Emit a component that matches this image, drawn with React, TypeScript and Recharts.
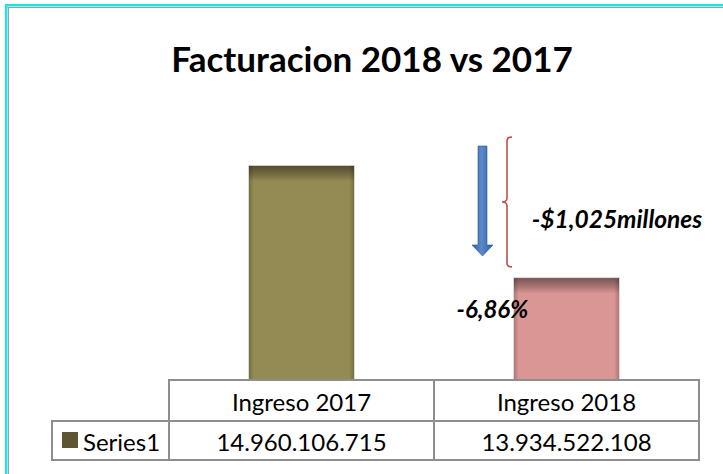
import React from 'react';
import { BarChart, Bar, XAxis, YAxis, Customized } from 'recharts';

const categories = ['Ingreso 2017', 'Ingreso 2018'];
const values = [14960106715, 13934522108];
const seriesName = 'Series1';
const title = 'Facturacion 2018 vs 2017';
const deltaLabel = '-$1,025millones';
const pctLabel = '-6,86%';
const barColors = ['#948A54', '#D99694'];
const yDomain = [13000000000, 15000000000];

const data = categories.map((c, i) => ({ name: c, value: values[i] }));

const FONT = 'Lato, "Open Sans", sans-serif';
const GRID = '#8E8E8E';

const fmt = (v: number) => String(v).replace(/\B(?=(\d{3})+(?!\d))/g, '.');

const BarShape = (props: any) => {
  const { x, y, width, height, index } = props;
  const base = barColors[index % barColors.length];
  const topH = Math.min(16, height);
  return (
    <g>
      <defs>
        <linearGradient id={`side${index}`} x1="0" y1="0" x2="1" y2="0">
          <stop offset="0" stopColor="#000" stopOpacity={0.22} />
          <stop offset="0.05" stopColor="#000" stopOpacity={0} />
          <stop offset="0.95" stopColor="#000" stopOpacity={0} />
          <stop offset="1" stopColor="#000" stopOpacity={0.22} />
        </linearGradient>
        <linearGradient id={`top${index}`} x1="0" y1="0" x2="0" y2="1">
          <stop offset="0" stopColor="#000" stopOpacity={0.45} />
          <stop offset="0.5" stopColor="#000" stopOpacity={0.25} />
          <stop offset="1" stopColor="#000" stopOpacity={0} />
        </linearGradient>
      </defs>
      <rect x={x} y={y} width={width} height={height} fill={base} />
      <rect x={x} y={y} width={width} height={height} fill={`url(#side${index})`} />
      <rect x={x} y={y} width={width} height={topH} fill={`url(#top${index})`} />
      <rect x={x} y={y} width={width} height={height} fill="none" stroke="#E4E4E4" strokeWidth={0.8} />
    </g>
  );
};

const PctLabel = (props: any) => {
  const { x, y, index } = props;
  if (index !== 1) return null;
  return (
    <text x={x - 21} y={y + 31} textAnchor="middle" dominantBaseline="central" fontSize={24} fontWeight={700} fontStyle="italic" fontFamily={FONT} fill="#000">
      {pctLabel}
    </text>
  );
};

const TableTick = (props: any) => {
  const { x, y, payload, index } = props;
  const half = payload && payload.offset ? payload.offset : 132.5;
  const left = x - half;
  const right = x + half;
  const r1 = 41;
  const r2 = 39;
  return (
    <g>
      <rect x={left} y={y} width={right - left} height={r1 + r2} fill="#fff" stroke={GRID} strokeWidth={2} />
      <line x1={left} x2={right} y1={y + r1} y2={y + r1} stroke={GRID} strokeWidth={2} />
      <text x={x} y={y + r1 / 2 + 1} textAnchor="middle" dominantBaseline="central" fontSize={24} fontFamily={FONT} fill="#000">
        {payload.value}
      </text>
      <text x={x} y={y + r1 + r2 / 2 + 1} textAnchor="middle" dominantBaseline="central" fontSize={24} fontFamily={FONT} fill="#000">
        {fmt(values[index])}
      </text>
      {index === 0 && (
        <g>
          <rect x={left - 117} y={y + r1} width={117} height={r2} fill="#fff" stroke={GRID} strokeWidth={2} />
          <rect x={left - 107} y={y + r1 + 11} width={16} height={16} fill="#5E5633" />
          <text x={left - 86} y={y + r1 + r2 / 2 + 1} dominantBaseline="central" fontSize={24} fontFamily={FONT} fill="#000">
            {seriesName}
          </text>
        </g>
      )}
    </g>
  );
};

const Decor = () => (
  <g>
    <defs>
      <linearGradient id="arrowGrad" x1="0" y1="0" x2="1" y2="0">
        <stop offset="0" stopColor="#2F5E99" />
        <stop offset="0.45" stopColor="#5A8ACB" />
        <stop offset="1" stopColor="#2F5E99" />
      </linearGradient>
    </defs>
    {/* frame */}
    <rect x={5} y={4} width={718} height={2.5} fill="#1AE6E6" />
    <rect x={5} y={4} width={2.5} height={470} fill="#1AE6E6" />
    <rect x={7.5} y={7} width={716} height={1} fill="#A0A0A0" />
    <rect x={8} y={7} width={1} height={467} fill="#A0A0A0" />
    <text x={372} y={72} textAnchor="middle" fontSize={35} fontWeight={700} fontFamily={FONT} fill="#000">
      {title}
    </text>
    {/* arrow */}
    <polygon
      points="478,146 487,146 487,245 493,245 482.5,256 472,245 478,245"
      fill="url(#arrowGrad)"
      stroke="#2B5791"
      strokeWidth={0.6}
    />
    {/* bracket */}
    <path
      d="M 512 137 Q 507 137 507 141 L 507 198 Q 507 202 502 202 Q 507 202 507 206 L 507 263 Q 507 267 512 267"
      fill="none"
      stroke="#C0504D"
      strokeWidth={1.6}
    />
    <text x={617} y={218} textAnchor="middle" dominantBaseline="central" fontSize={24.5} fontWeight={700} fontStyle="italic" fontFamily={FONT} fill="#000">
      {deltaLabel}
    </text>
  </g>
);

export default function App() {
  return (
    <div style={{ position: 'fixed', left: 0, top: 0, width: 723, height: 474, background: '#fff' }}>
      <BarChart
        width={723}
        height={474}
        data={data}
        margin={{ top: 161, right: 24, bottom: 14, left: 169 }}
        barCategoryGap="30%"
        style={{ fontFamily: FONT }}
      >
        <YAxis hide domain={yDomain} allowDataOverflow type="number" />
        <XAxis
          dataKey="name"
          height={80}
          axisLine={false}
          tickLine={false}
          tickSize={0}
          tickMargin={0}
          interval={0}
          tick={<TableTick />}
        />
        <Customized component={<Decor />} />
        <Bar dataKey="value" isAnimationActive={false} shape={<BarShape />} label={<PctLabel />} />
      </BarChart>
    </div>
  );
}
